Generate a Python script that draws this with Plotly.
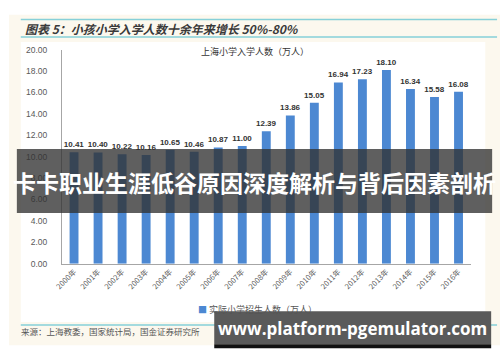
import plotly.graph_objects as go

years = ["2000年", "2001年", "2002年", "2003年", "2004年", "2005年", "2006年", "2007年",
         "2008年", "2009年", "2010年", "2011年", "2012年", "2013年", "2014年", "2015年", "2016年"]
enrolment = [10.41, 10.40, 10.22, 10.16, 10.65, 10.46, 10.87, 11.00,
             12.39, 13.86, 15.05, 16.94, 17.23, 18.10, 16.34, 15.58, 16.08]
y_ticks = [0, 2, 4, 6, 8, 10, 12, 14, 16, 18, 20]
series_name = "实际小学招生人数（万人）"
chart_title = "上海小学入学人数（万人）"
header = "图表 5：小孩小学入学人数十余年来增长 50%-80%"
source = "来源：上海教委，国家统计局，国金证券研究所"
banner = "卡卡职业生涯低谷原因深度解析与背后因素剖析"
site = "www.platform-pgemulator.com"

W, H = 500, 362
def px(x): return x / W
def py(y): return 1 - y / H

CJK = "Noto Sans CJK SC, Arial, sans-serif"
BLUE = "#4c88d2"
TEAL = "#86d0d8"
CREAM = "#fcf8ee"

fig = go.Figure()
fig.add_trace(go.Bar(
    x=years, y=enrolment, name=series_name,
    marker=dict(color=BLUE, line=dict(width=0)),
    text=[f"{v:.2f}" for v in enrolment], textposition="outside", constraintext="none",
    textfont=dict(family="Liberation Sans, Arial", size=8, color="#333333", weight="bold"),
    cliponaxis=False, showlegend=False, hoverinfo="skip",
))

shapes = [
    dict(type="rect", xref="paper", yref="paper", x0=0, x1=1, y0=py(350), y1=py(10),
         fillcolor=CREAM, line=dict(width=0), layer="below"),
    dict(type="rect", xref="paper", yref="paper", x0=px(12), x1=px(485), y0=py(326), y1=py(38),
         fillcolor="white", line=dict(width=0), layer="below"),
]
for yy in (15, 33, 329):
    shapes.append(dict(type="line", xref="paper", yref="paper", x0=px(12), x1=px(497),
                       y0=py(yy), y1=py(yy), line=dict(color=TEAL, width=1.5), layer="below"))
# overlay banner and site box
shapes.append(dict(type="rect", xref="paper", yref="paper", x0=px(8), x1=px(492), y0=py(214), y1=py(148),
                   fillcolor="rgba(50,50,50,0.78)", line=dict(width=0), layer="above"))
shapes.append(dict(type="rect", xref="paper", yref="paper", x0=px(209), x1=px(491), y0=py(349), y1=py(315),
                   fillcolor="#5a5a5a", line=dict(width=0), layer="above"))
shapes.append(dict(type="rect", xref="paper", yref="paper", x0=px(209), x1=px(491), y0=py(353), y1=py(349),
                   fillcolor="#111111", line=dict(width=0), layer="above"))

annotations = [
    dict(text=f"<i><b>{header}</b></i>", xref="paper", yref="paper", x=px(14), y=py(24),
         xanchor="left", yanchor="middle", showarrow=False,
         font=dict(family=CJK, size=12, color="#3a3a3a")),
    dict(text=chart_title, xref="paper", yref="paper", x=px(250), y=py(48),
         xanchor="center", yanchor="middle", showarrow=False,
         font=dict(family=CJK, size=9, color="#333333")),
    dict(text=f"<span style='color:{BLUE}'>■</span> {series_name}", xref="paper", yref="paper",
         x=px(253), y=py(313), xanchor="center", yanchor="middle", showarrow=False,
         font=dict(family=CJK, size=9, color="#555555")),
    dict(text=source, xref="paper", yref="paper", x=px(10), y=py(335),
         xanchor="left", yanchor="middle", showarrow=False,
         font=dict(family=CJK, size=8.5, color="#555555")),
    dict(text=f"<b>{banner}</b>", xref="paper", yref="paper", x=px(250), y=py(182),
         xanchor="center", yanchor="middle", showarrow=False,
         font=dict(family=CJK, size=23, color="white")),
    dict(text=f"<b>{site}</b>", xref="paper", yref="paper", x=px(350), y=py(333),
         xanchor="center", yanchor="middle", showarrow=False,
         font=dict(family="Open Sans, DejaVu Sans, sans-serif", size=17, color="white")),
]

fig.update_layout(
    width=W, height=H, margin=dict(l=0, r=0, t=0, b=0),
    paper_bgcolor="white", plot_bgcolor="rgba(0,0,0,0)",
    bargap=0.63, showlegend=False, hovermode=False,
    shapes=shapes, annotations=annotations,
    xaxis=dict(domain=[px(54), px(470)], showline=True, linecolor="#a6a6a6", linewidth=1,
               tickangle=-45, ticks="", showgrid=False,
               tickfont=dict(family=CJK, size=7.5, color="#595959")),
    yaxis=dict(domain=[py(266), py(46)], range=[0, 20], tickvals=y_ticks,
               ticktext=[f"{v:.2f}" for v in y_ticks], showline=True, linecolor="#a6a6a6",
               linewidth=1, showgrid=False, zeroline=False, ticks="", ticklabelstandoff=12,
               tickfont=dict(family="Liberation Sans, Arial", size=8.5, color="#595959")),
)

fig.write_html("out.html", config={"displayModeBar": False, "staticPlot": True},
               post_script="document.body.style.margin='0';document.body.style.padding='0';")
